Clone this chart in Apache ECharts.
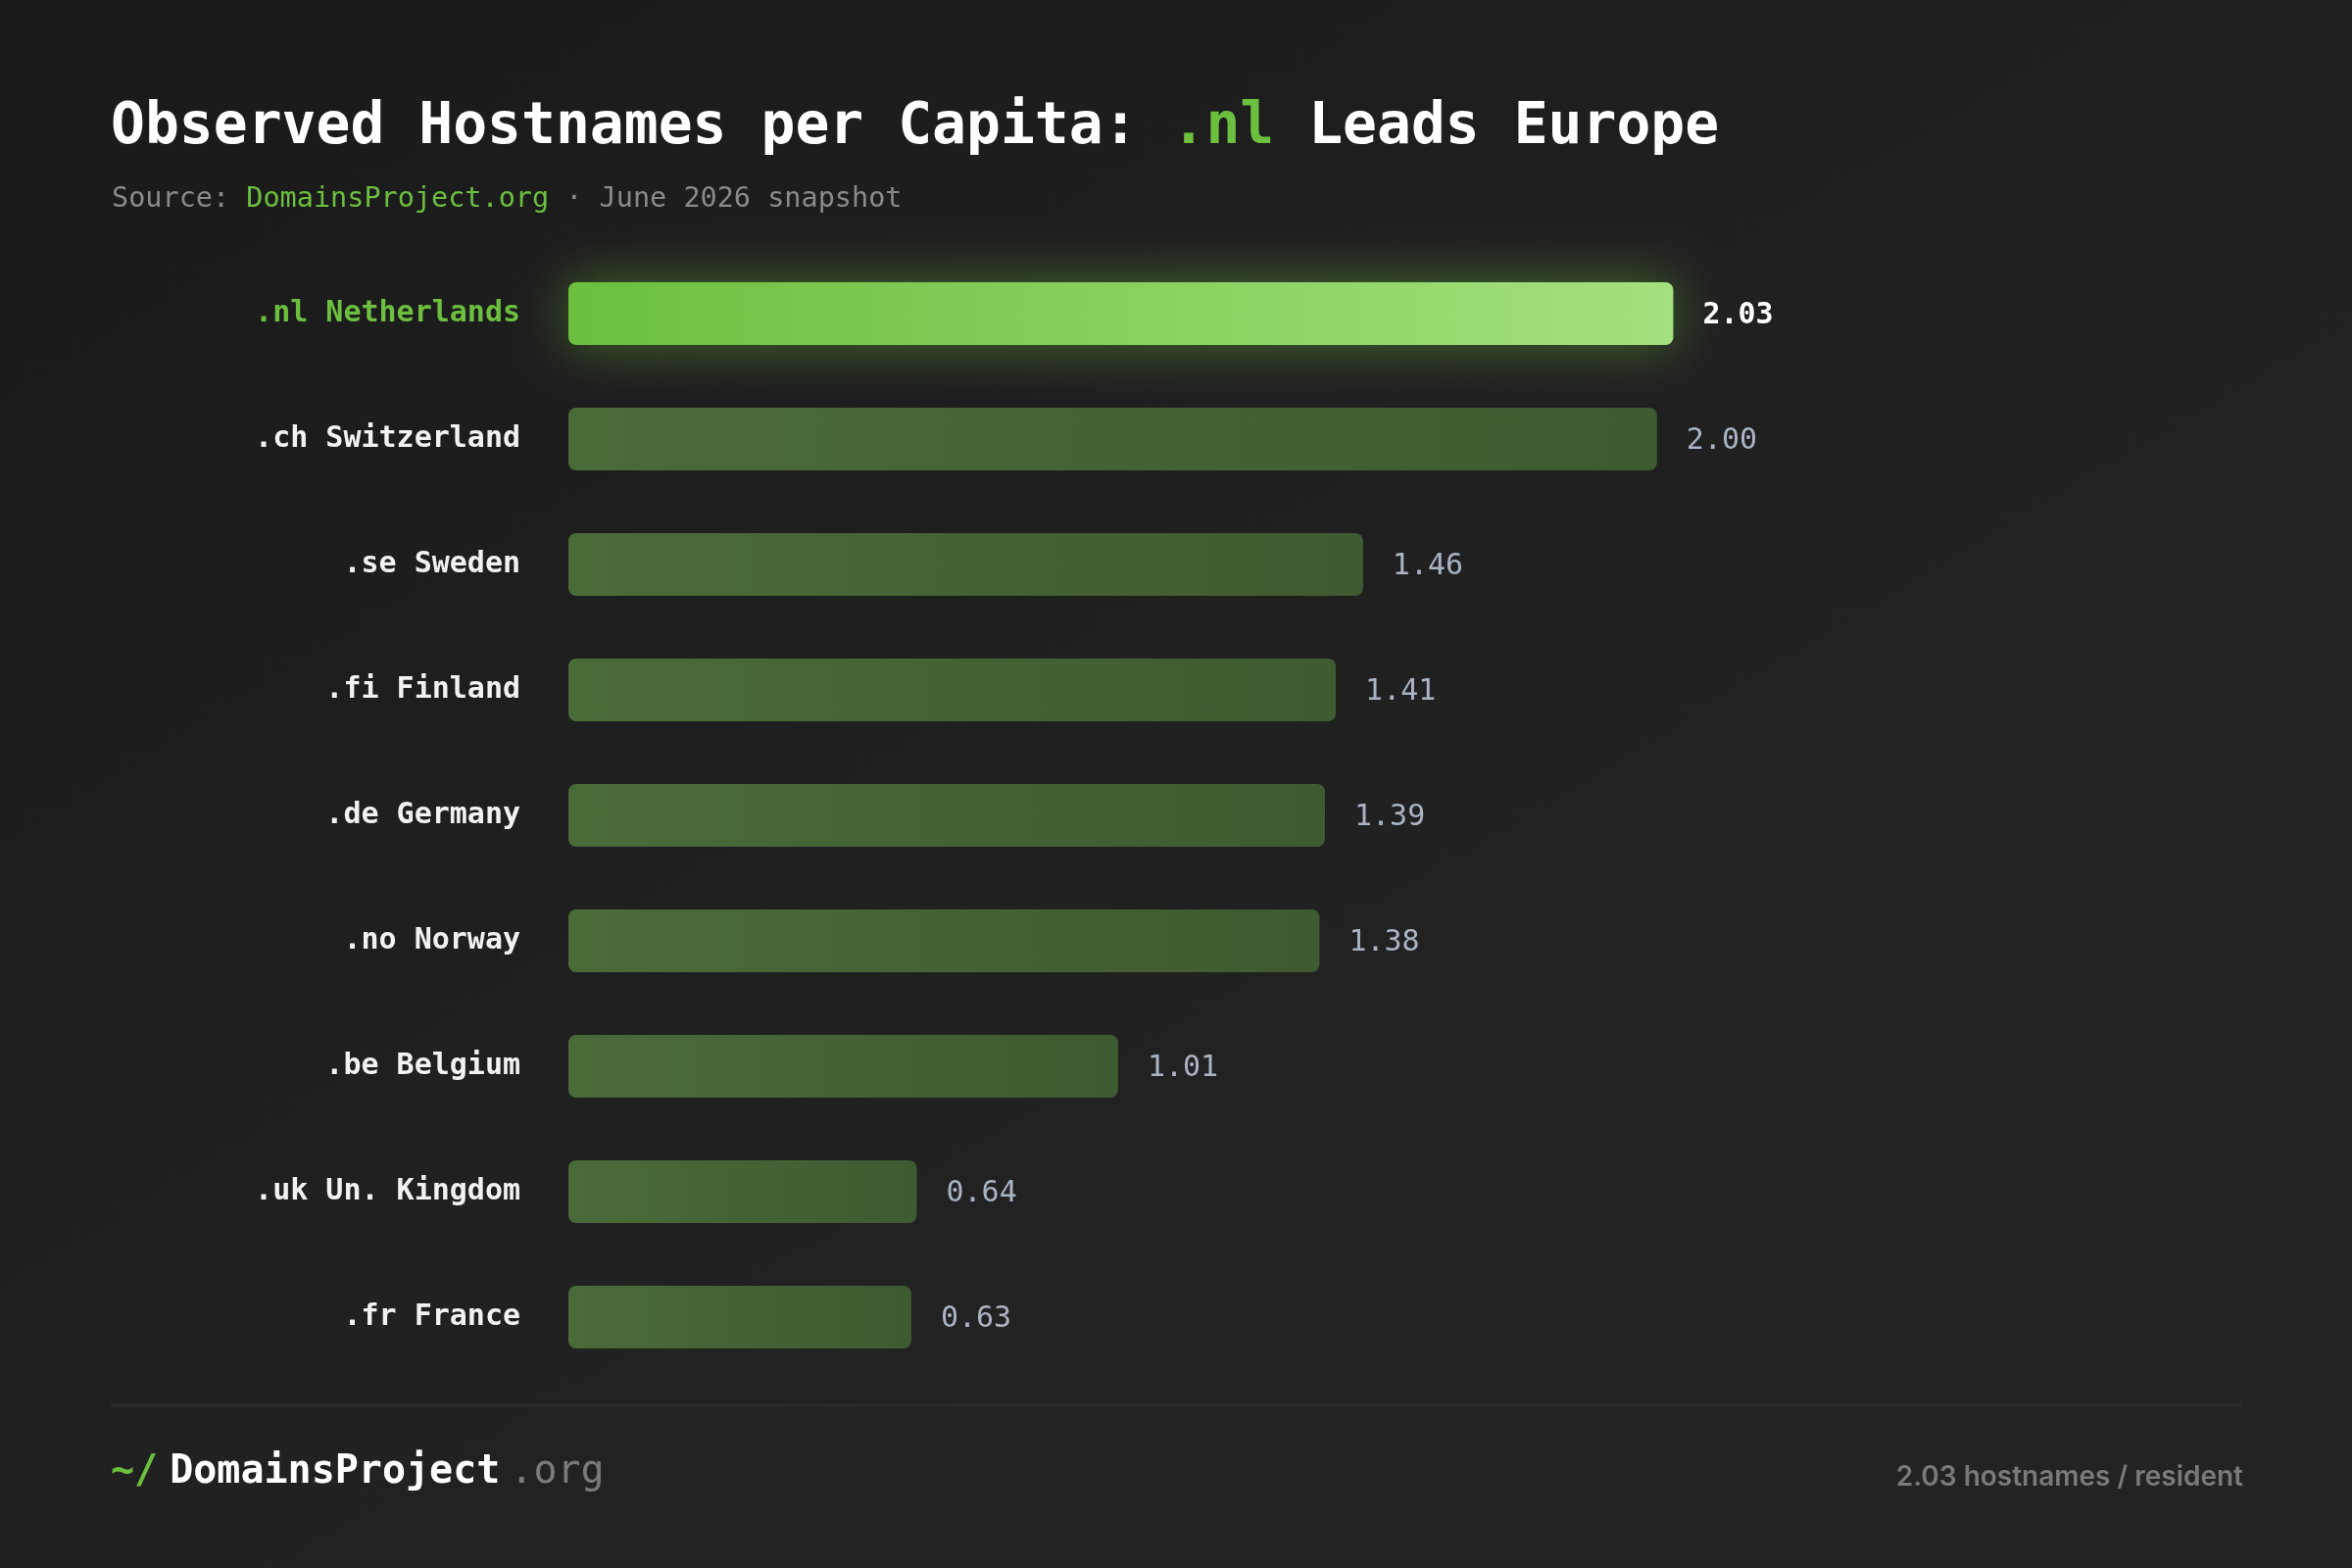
<!DOCTYPE html>
<html>
<head>
<meta charset="utf-8">
<style>
html,body{margin:0;padding:0;background:#1e1e1e;}
#chart{width:2400px;height:1600px;}
</style>
<script src="https://cdn.jsdelivr.net/npm/echarts@6/dist/echarts.min.js"></script>
</head>
<body>
<div id="chart"></div>
<script>
// ---- data ----
const categories = ['.nl Netherlands', '.ch Switzerland', '.se Sweden', '.fi Finland', '.de Germany', '.no Norway', '.be Belgium', '.uk Un. Kingdom', '.fr France'];
const values = [2.03, 2.00, 1.46, 1.41, 1.39, 1.38, 1.01, 0.64, 0.63];
const highlightIndex = 0;

const MONO = '"DejaVu Sans Mono", "Liberation Mono", monospace';
const SANS = 'Inter, "Noto Sans", sans-serif';

const chart = echarts.init(document.getElementById('chart'));

const barData = values.map((v, i) => {
  if (i === highlightIndex) {
    return {
      value: v,
      itemStyle: {
        color: new echarts.graphic.LinearGradient(0, 0, 1, 0, [
          { offset: 0, color: '#6cbf3f' },
          { offset: 1, color: '#a4e07d' }
        ]),
        shadowBlur: 55,
        shadowColor: 'rgba(120,205,70,0.45)'
      },
      label: { color: '#ffffff', fontWeight: 'bold' }
    };
  }
  return { value: v };
});

const catData = categories.map((c, i) => i === highlightIndex
  ? { value: c, textStyle: { color: '#6cbf3f' } }
  : c);

chart.setOption({
  backgroundColor: new echarts.graphic.LinearGradient(0, 0, 0.4, 1, [
    { offset: 0, color: '#1a1a1a' },
    { offset: 1, color: '#232323' }
  ]),
  animation: false,
  title: [
    {
      left: 108, top: 91,
      text: '{w|Observed Hostnames per Capita: }{g|.nl}{w| Leads Europe}',
      textStyle: {
        rich: {
          w: { fontFamily: MONO, fontSize: 58, fontWeight: 'bold', color: '#ffffff', lineHeight: 70 },
          g: { fontFamily: MONO, fontSize: 58, fontWeight: 'bold', color: '#6cbf3f', lineHeight: 70 }
        }
      }
    },
    {
      left: 109, top: 182,
      text: '{s|Source: }{g|DomainsProject.org}{s| · June 2026 snapshot}',
      textStyle: {
        fontWeight: 'normal',
        rich: {
          s: { fontFamily: MONO, fontSize: 28.5, fontWeight: 'normal', color: '#8a8a8a', lineHeight: 34 },
          g: { fontFamily: MONO, fontSize: 28.5, fontWeight: 'normal', color: '#6cbf3f', lineHeight: 34 }
        }
      }
    },
    {
      left: 108, top: 1474,
      text: '{t|~/}{b|DomainsProject}{o|.org}',
      textStyle: {
        rich: {
          t: { fontFamily: MONO, fontSize: 40, fontWeight: 'bold', color: '#6cbf3f', lineHeight: 48, padding: [0, 12, 0, 0] },
          b: { fontFamily: MONO, fontSize: 40, fontWeight: 'bold', color: '#ffffff', lineHeight: 48 },
          o: { fontFamily: MONO, fontSize: 40, fontWeight: 'normal', color: '#7a7a7a', lineHeight: 48, padding: [0, 0, 0, 10] }
        }
      }
    },
    {
      right: 106, top: 1486,
      text: '2.03 hostnames / resident',
      textStyle: { fontFamily: SANS, fontSize: 28, fontWeight: 600, color: '#7a7a7a', lineHeight: 34 }
    }
  ],
  graphic: [
    {
      type: 'line',
      shape: { x1: 113, y1: 1434, x2: 2288, y2: 1434 },
      style: { stroke: '#2c2c2c', lineWidth: 3 }
    }
  ],
  grid: { left: 580, right: 376, top: 256, bottom: 192, containLabel: false },
  xAxis: {
    type: 'value', min: 0, max: 2.6,
    show: false
  },
  yAxis: {
    type: 'category',
    inverse: true,
    data: catData,
    axisLine: { show: false },
    axisTick: { show: false },
    splitLine: { show: false },
    axisLabel: {
      margin: 49,
      fontFamily: MONO,
      fontSize: 30,
      fontWeight: 'bold',
      color: '#f2f2f2',
      padding: [6, 0, 0, 0]
    }
  },
  series: [{
    type: 'bar',
    data: barData,
    barWidth: 64,
    itemStyle: {
      borderRadius: 8,
      color: new echarts.graphic.LinearGradient(0, 0, 1, 0, [
        { offset: 0, color: '#496b38' },
        { offset: 1, color: '#3e5b31' }
      ])
    },
    label: {
      show: true,
      position: 'right',
      distance: 30,
      offset: [0, 2],
      fontFamily: MONO,
      fontSize: 30,
      color: '#aab4c3',
      formatter: p => p.value.toFixed(2)
    }
  }]
});
</script>
</body>
</html>
